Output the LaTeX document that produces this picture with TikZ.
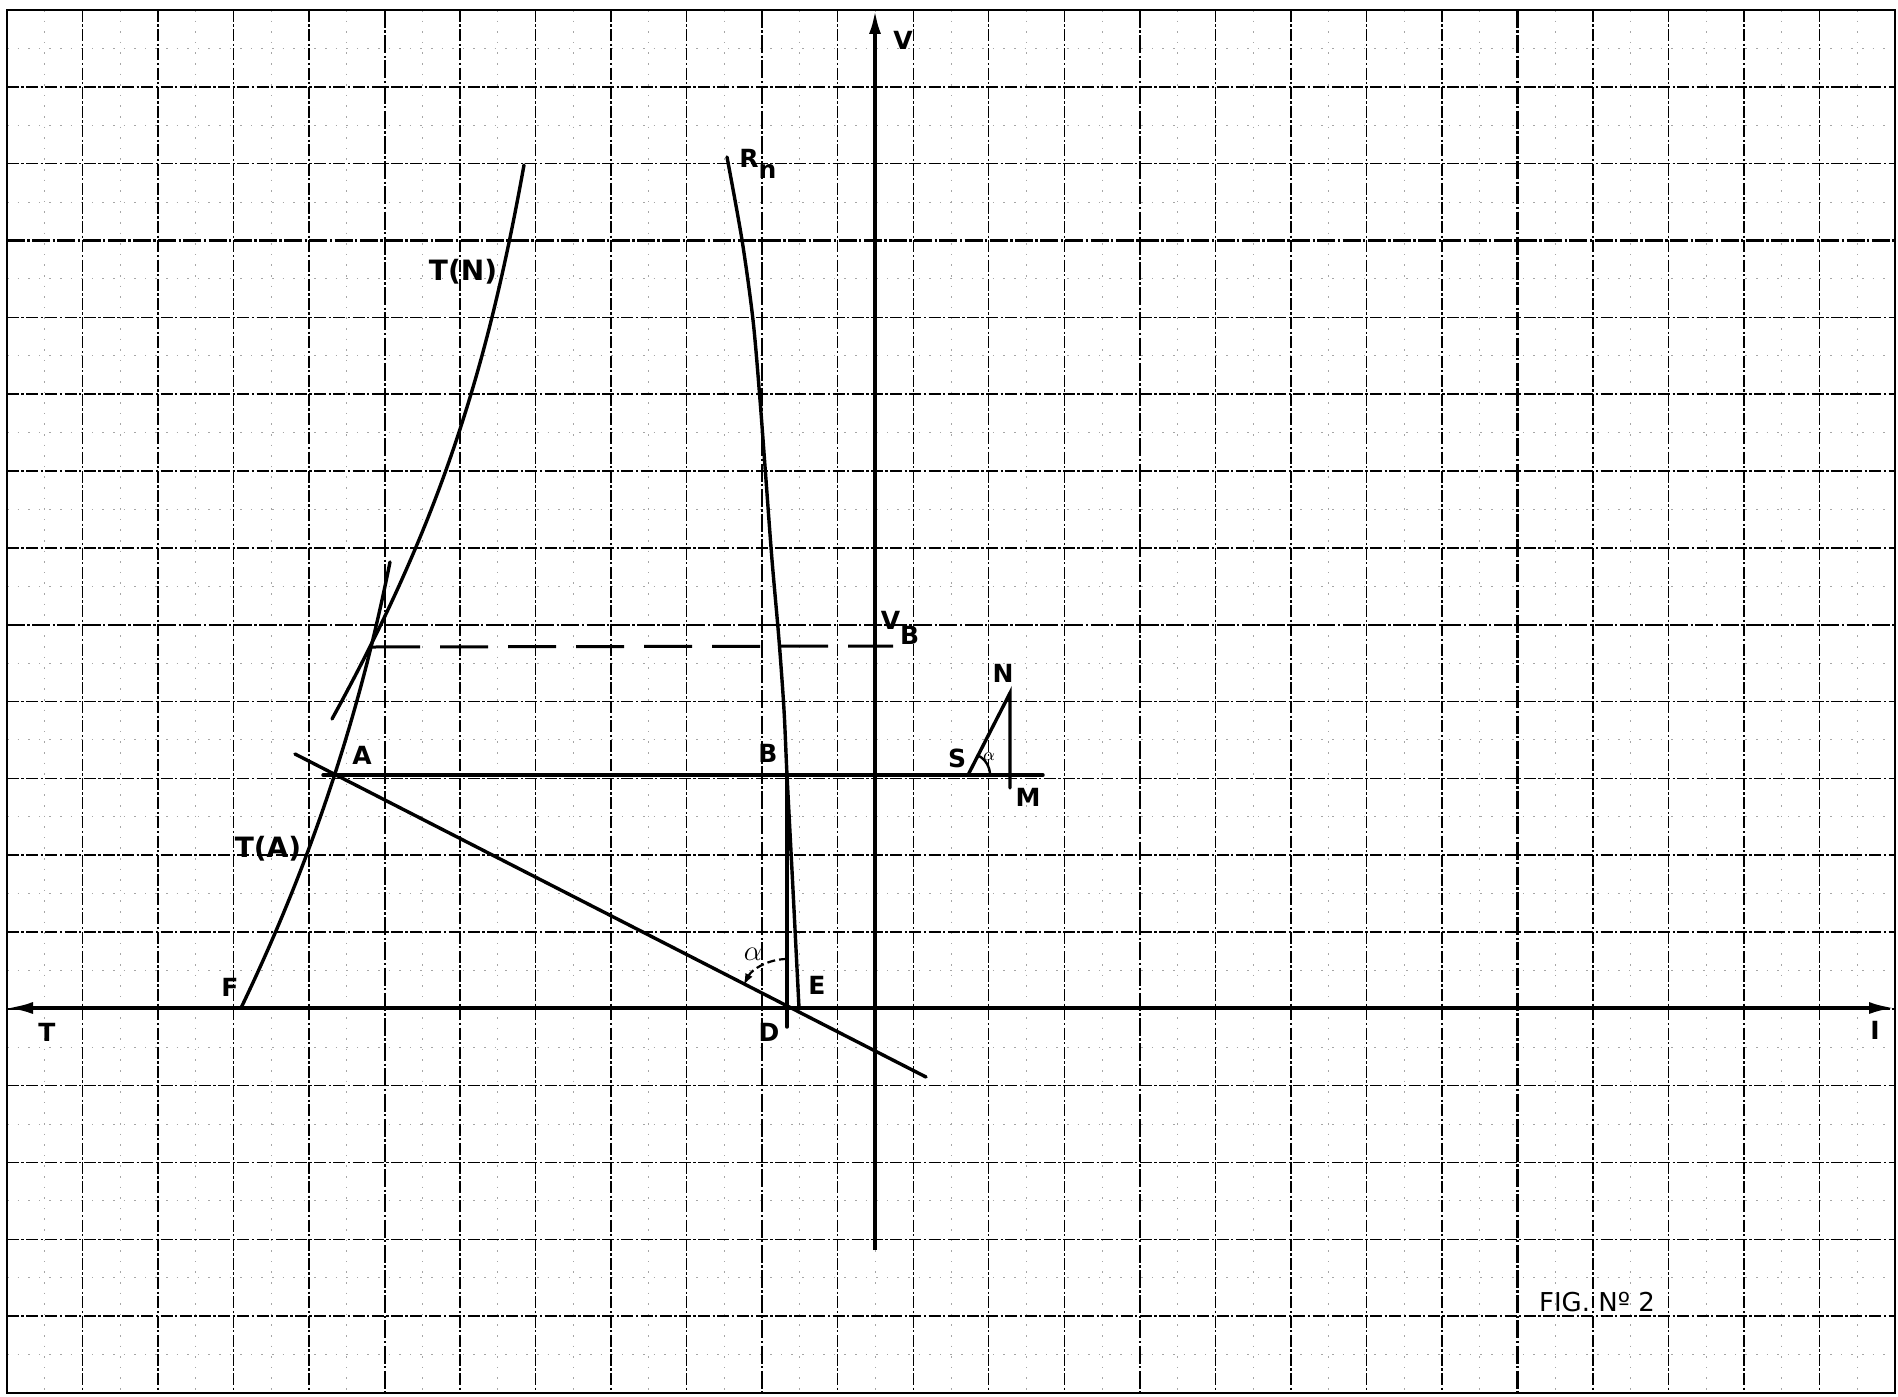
\documentclass[tikz,border=0pt]{standalone}
\usepackage{fontspec}
\setmainfont{DejaVu Sans}
\usetikzlibrary{arrows.meta}
\begin{document}
\begin{tikzpicture}[x=0.5pt,y=-0.5pt,
  gridmajor/.style={line width=0.7pt,dash pattern=on 6pt off 1.2pt on 1.2pt off 1.2pt},
  gridheavy/.style={line width=1.1pt,dash pattern=on 9pt off 1.2pt on 1.2pt off 1.2pt},
  gridminor/.style={line width=0.5pt,black!35,dash pattern=on 0.8pt off 4.5pt},
  curve/.style={line width=1.7pt,line cap=round},
  axisline/.style={line width=1.9pt},
  lbl/.style={inner sep=0pt,font=\fontsize{12.5}{15}\selectfont\bfseries},
  biglbl/.style={inner sep=0pt,font=\fontsize{14}{17}\selectfont\bfseries}]
\useasboundingbox (0,0) rectangle (1898,1396);
% ---------- grid ----------
\foreach \k in {0,...,24} {\pgfmathsetmacro\xx{7+75.52*(\k+0.5)}
  \draw[gridminor] (\xx,10) -- (\xx,1393);}
\foreach \k in {0,...,17} {\pgfmathsetmacro\yy{10+76.83*(\k+0.5)}
  \draw[gridminor] (7,\yy) -- (1895,\yy);}
\foreach \k in {1,...,24} {\pgfmathsetmacro\xx{7+75.52*\k}
  \pgfmathtruncatemacro\m{mod(\k,5)}
  \ifnum\m=0 \draw[gridheavy] (\xx,10) -- (\xx,1393);
  \else \draw[gridmajor] (\xx,10) -- (\xx,1393); \fi}
\foreach \k in {1,...,17} {\pgfmathsetmacro\yy{10+76.83*\k}
  \pgfmathtruncatemacro\m{mod(\k+2,5)}
  \ifnum\m=0 \draw[gridheavy] (7,\yy) -- (1895,\yy);
  \else \draw[gridmajor] (7,\yy) -- (1895,\yy); \fi}
\draw[line width=1.4pt] (7,10) rectangle (1895,1393);
% ---------- key points ----------
\coordinate (Tl) at (7,1008);
\coordinate (Tr) at (1895,1008);
\coordinate (Vtop) at (875,10);
\coordinate (Vbot) at (875,1250);
\coordinate (A) at (335,775);
\coordinate (B) at (787,775);
\coordinate (D) at (787,1008);
\coordinate (Dlow) at (787,1027);
\coordinate (E) at (799,1008);
\coordinate (F) at (241,1008);
\coordinate (H1) at (323,775);
\coordinate (H2) at (1043,775);
\coordinate (L1) at (295,754);
\coordinate (L2) at (926,1077);
\coordinate (X) at (372,647);
\coordinate (VBend) at (893,646);
\coordinate (TAtop) at (390,562);
\coordinate (TNbot) at (332,719);
\coordinate (TNtop) at (524,165);
\coordinate (Rtop) at (727,157);
\coordinate (S) at (968,775);
\coordinate (N) at (1010,693);
\coordinate (Mb) at (1010,788);
% ---------- axes ----------
\draw[axisline,{Latex[length=13pt,width=6pt]}-{Latex[length=13pt,width=6pt]}] (Tl) -- (Tr);
\draw[axisline,-{Latex[length=12pt,width=6pt]}] (Vbot) -- (Vtop);
% ---------- construction lines ----------
\draw[curve] (H1) -- (H2);
\draw[curve] (L1) -- (L2);
\draw[curve] (B) -- (Dlow);
\draw[line width=1.5pt,dash pattern=on 24pt off 10pt] (X) -- (VBend);
% ---------- curves ----------
\draw[curve] (F) .. controls (313,858) and (360,712) .. (TAtop);
\draw[curve] (TNbot) .. controls (442,519) and (488,365) .. (TNtop);
\draw[curve] plot[smooth] coordinates {(Rtop) (742,240) (753,320) (760,400) (766,480) (772,560) (779,640) (784,710) (B) (793,890) (E)};
% ---------- small triangle ----------
\draw[curve] (S) -- (N) -- (Mb);
\draw[line width=1.2pt] (S) ++(22,0) arc[start angle=0,end angle=-63,radius=22];
% ---------- alpha arc at D ----------
\draw[line width=1.1pt,dash pattern=on 4pt off 2pt,-{Latex[length=6pt,width=4pt]}] (D) ++(0,-49) arc[start angle=-90,end angle=-152.8,radius=49];
% ---------- labels ----------
\node[biglbl] (lTN) at (463,272) {T(N)};
\node[biglbl] (lTA) at (268,849) {T(A)};
\node[lbl] (lA) at (362,755) {A};
\node[lbl] (lB) at (768,753) {B};
\node[lbl] (lF) at (230,987) {F};
\node[lbl] (lD) at (769,1032) {D};
\node[lbl] (lE) at (817,985) {E};
\node[lbl] (lRn) at (758,164) {R\raisebox{-0.8ex}{n}};
\node[lbl] (lV) at (903,40) {V};
\node[lbl] (lVB) at (900,628) {V\raisebox{-1.1ex}{B}};
\node[lbl] (lT) at (47,1032) {T};
\node[lbl] (lI) at (1875,1030) {I};
\node[lbl] (lN) at (1003,673) {N};
\node[lbl] (lS) at (957,758) {S};
\node[lbl] (lM) at (1028,797) {M};
\node[inner sep=0pt,font=\fontsize{13}{15}\selectfont] (lfig) at (1597,1302) {FIG. Nº 2};
\node[inner sep=0pt,font=\fontsize{14}{16}\selectfont] (lal) at (753,954) {$\alpha$};
\node[inner sep=0pt,font=\fontsize{9}{10}\selectfont] (las) at (989,757) {$\alpha$};
\end{tikzpicture}
\end{document}
